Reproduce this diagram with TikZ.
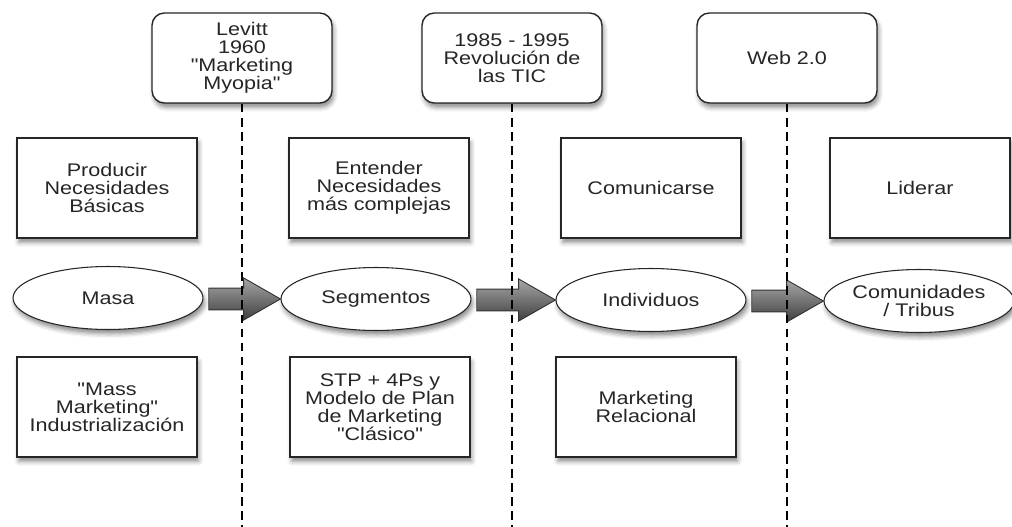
\documentclass[tikz,border=0pt]{standalone}
\usepackage{fontspec}
\setmainfont{Liberation Sans}[FakeStretch=1.18, Ligatures=TeXOff]
\usetikzlibrary{shapes.geometric,shadows.blur,calc}

\newcommand\pusharrow[2]{%
  \path[movearrow] let \p1=(#1.east), \p2=(#2.west) in
    (\x1+3pt,\y2+6.2pt) -- (\x2-21pt,\y2+6.2pt) -- (\x2-21pt,\y2+12pt) -- (\x2,\y2)
    -- (\x2-21pt,\y2-12pt) -- (\x2-21pt,\y2-6.2pt) -- (\x1+3pt,\y2-6.2pt) -- cycle;}

\begin{document}
\begin{tikzpicture}[x=0.02cm,y=-0.02cm,
  every node/.style={text=black!85, font=\fontsize{10.4}{10.2}\selectfont},
  era/.style={draw=black!85, line width=0.8pt, rounded corners=7pt, fill=white, minimum width=3.6cm, minimum height=1.8cm, align=center,
    blur shadow={shadow xshift=1pt, shadow yshift=-2.5pt, shadow blur radius=2.5pt, shadow opacity=45}},
  stage/.style={draw=black!85, line width=0.8pt, fill=white, minimum width=3.6cm, minimum height=2cm, align=center,
    blur shadow={shadow xshift=1pt, shadow yshift=-2.5pt, shadow blur radius=2.5pt, shadow opacity=45}},
  market/.style={ellipse, draw=black!85, line width=0.6pt, fill=white, minimum width=3.8cm, minimum height=1.26cm, inner sep=0pt, align=center,
    blur shadow={shadow xshift=1pt, shadow yshift=-2.5pt, shadow blur radius=2.5pt, shadow opacity=45}},
  movearrow/.style={draw=black!80, line width=0.5pt, top color=black!35, bottom color=black!75},
  timeline/.style={line width=0.6pt, dash pattern=on 5pt off 3pt}]
\useasboundingbox (0,0) rectangle (1012,527);

% eras
\node[era] (levitt) at (242,58) {Levitt\\1960\\"Marketing\\Myopia"};
\node[era] (tic) at (512,58) {1985 - 1995\\Revolución de\\las TIC};
\node[era] (web) at (787,58) {Web 2.0};

% what the company does
\node[stage] (producir) at (107,188) {Producir\\Necesidades\\Básicas};
\node[stage] (entender) at (379,188) {Entender\\Necesidades\\más complejas};
\node[stage] (comunicar) at (651,188) {Comunicarse};
\node[stage] (liderar) at (920,188) {Liderar};

% the market
\node[market] (masa) at (108,298) {Masa};
\node[market] (segmentos) at (376,299) {Segmentos};
\node[market] (individuos) at (651,300) {Individuos};
\node[market] (comunidades) at (919,301) {Comunidades\\/ Tribus};

% marketing approach
\node[stage] (mass) at (107,407) {"Mass\\Marketing"\\Industrialización};
\node[stage] (stp) at (380,407) {STP + 4Ps y\\Modelo de Plan\\de Marketing\\"Clásico"};
\node[stage] (relacional) at (646,407) {Marketing\\Relacional};

\pusharrow{masa}{segmentos}
\pusharrow{segmentos}{individuos}
\pusharrow{individuos}{comunidades}

\coordinate (bottom) at (0,527);
\draw[timeline] (levitt.south) -- (levitt.south |- bottom);
\draw[timeline] (tic.south) -- (tic.south |- bottom);
\draw[timeline] (web.south) -- (web.south |- bottom);
\end{tikzpicture}
\end{document}
